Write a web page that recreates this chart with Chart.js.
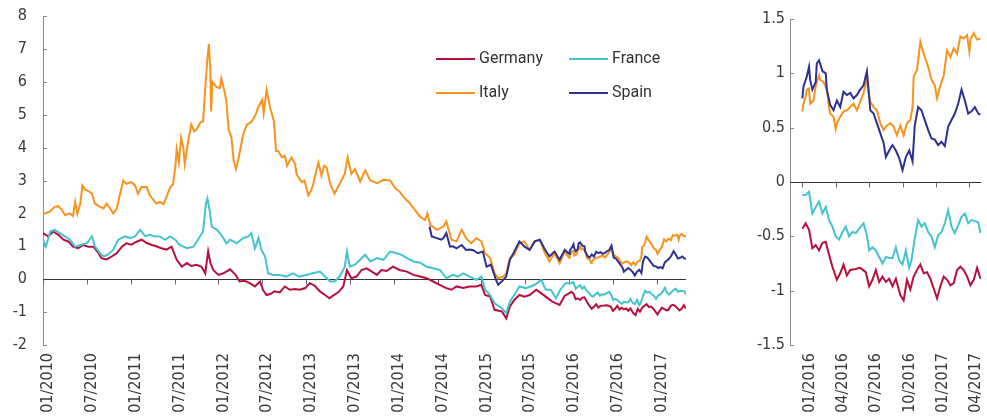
<!DOCTYPE html>
<html>
<head>
<meta charset="utf-8">
<script src="https://cdn.jsdelivr.net/npm/chart.js@4.4.1/dist/chart.umd.min.js"></script>
<style>
  html, body { margin: 0; padding: 0; background: #fff; }
  #wrap { position: relative; width: 987px; height: 420px; overflow: hidden; }
  #c1 { position: absolute; left: 0; top: 0; }
  #c2 { position: absolute; left: 705px; top: 0; }
  .lg { position: absolute; font-family: Roboto, "DejaVu Sans", sans-serif; font-size: 16px; color: #333; line-height: 20px; white-space: nowrap; }
  .sw { position: absolute; height: 2px; width: 39px; }
</style>
</head>
<body>
<div id="wrap">
  <canvas id="c1" width="705" height="420"></canvas>
  <canvas id="c2" width="282" height="420"></canvas>
  <div id="legend"></div>
</div>
<script>
// ---------- tick labels ----------
const leftTickLabels = ['01/2010','07/2010','01/2011','07/2011','01/2012','07/2012','01/2013','07/2013','01/2014','07/2014','01/2015','07/2015','01/2016','07/2016','01/2017'];
const rightTickLabels = ['01/2016','04/2016','07/2016','10/2016','01/2017','04/2017'];

// ---------- series (x = months since 01/2010) ----------
const seriesNames = ['Germany', 'France', 'Italy', 'Spain'];
const seriesColors = ['#b5103f', '#45c3d0', '#f7941d', '#2e3192'];

const germanyMonths = [0,0.7,1.4,2.1,2.8,3.5,4.1,4.8,5.5,6.2,6.9,7.6,8,8.7,9.4,10.1,10.8,11.4,12.1,12.8,13.5,14.2,14.9,15.5,16.2,16.9,17.6,18.3,19,19.7,20.3,21,21.7,22.2,22.6,22.9,23.3,24,24.7,25.6,26.3,26.9,27.6,28.3,29,29.7,30.1,30.6,31.1,31.7,32.4,33.1,33.8,34.5,35.1,35.9,36.5,37.2,37.9,38.6,39.2,39.7,40.4,41.1,41.6,42.2,42.9,43.6,44.3,45,45.7,46.3,47,47.9,48.8,49.8,50.7,51.6,52.5,53.4,54.3,55.2,55.9,56.6,57.5,58.4,59.3,60,60.5,61.2,61.8,62.8,63.4,63.9,64.5,65.2,65.9,66.6,67.5,68.2,68.8,69.7,70.7,71.4,
  72,72.3,72.6,72.9,73.2,73.5,73.8,74.1,74.4,74.7,75.1,75.4,75.7,76,76.3,76.8,77.2,77.7,78,78.3,78.6,78.9,79.2,79.5,79.8,80.1,80.4,80.8,81.1,81.4,81.7,82,82.3,82.6,82.9,83.2,83.5,83.8,84.1,84.4,84.7,85,85.3,85.6,85.9,86.2,86.5,86.8,87.1,87.4,87.7,88];
const germanyValues = [1.4,1.3,1.45,1.35,1.2,1.14,0.99,0.94,1.04,0.99,0.99,0.79,0.64,0.6,0.69,0.79,0.99,1.09,1.05,1.14,1.2,1.1,1.04,1.0,0.94,0.9,0.99,0.59,0.38,0.49,0.4,0.44,0.38,0.18,0.85,0.5,0.28,0.13,0.18,0.3,0.15,-0.07,-0.05,-0.12,-0.22,-0.07,-0.32,-0.48,-0.45,-0.37,-0.4,-0.22,-0.32,-0.3,-0.32,-0.27,-0.12,-0.2,-0.37,-0.48,-0.58,-0.5,-0.4,-0.22,0.28,0.03,0.08,0.28,0.33,0.23,0.13,0.28,0.25,0.38,0.28,0.23,0.13,0.08,0.03,-0.07,-0.17,-0.27,-0.32,-0.22,-0.27,-0.22,-0.22,-0.17,-0.48,-0.53,-0.93,-0.98,-1.19,-0.83,-0.63,-0.48,-0.53,-0.48,-0.32,-0.43,-0.53,-0.68,-0.78,-0.5,
  -0.43,-0.38,-0.44,-0.61,-0.58,-0.63,-0.56,-0.55,-0.67,-0.78,-0.9,-0.84,-0.76,-0.86,-0.81,-0.8,-0.79,-0.83,-0.96,-0.9,-0.81,-0.92,-0.87,-0.92,-0.89,-0.96,-0.89,-1.04,-1.09,-0.9,-0.99,-0.87,-0.81,-0.76,-0.84,-0.83,-0.89,-0.98,-1.07,-0.96,-0.87,-0.9,-0.95,-0.93,-0.81,-0.78,-0.81,-0.87,-0.95,-0.9,-0.79,-0.89];

const franceMonths = [0,0.4,1,1.6,2.3,3,3.7,4.4,5.1,6,6.7,7.1,7.8,8.3,8.9,9.6,10.3,11.2,11.9,12.6,13.3,14,14.6,15.3,16,16.7,17.4,18.1,18.7,19.7,20.6,21.2,21.9,22.3,22.5,22.8,23.1,23.8,24.4,25.1,25.6,26.1,26.5,27.4,28.1,28.5,29,29.5,29.9,30.4,30.8,31.5,32.4,33.3,34.2,35.1,36,36.9,37.9,38.6,39.3,39.9,40.6,41.3,41.6,42,42.7,43.4,44.1,44.8,45.7,46.6,47.5,48.4,49.1,49.8,50.7,51.6,52.5,53.4,54.3,55.2,56.1,56.8,57.5,58.4,59.3,60,60.5,61.2,61.8,62.8,63.4,63.9,64.5,65.2,66.1,67.3,68.2,68.8,69.5,70.2,70.8,71.5,
  72,72.3,72.6,72.9,73.2,73.5,73.8,74.1,74.4,74.7,75,75.3,75.6,75.9,76.2,76.5,76.8,77.1,77.5,77.8,78,78.3,78.6,78.9,79.2,79.5,79.8,80.1,80.4,80.7,81,81.3,81.6,81.8,82.1,82.4,82.7,83,83.3,83.6,83.9,84.2,84.5,84.8,85.1,85.4,85.7,86,86.3,86.6,86.9,87.2,87.5,87.8,88];
const franceValues = [1.2,0.99,1.45,1.5,1.4,1.3,1.2,0.99,1.04,1.09,1.3,1.0,0.79,0.69,0.75,0.89,1.2,1.3,1.25,1.3,1.5,1.3,1.35,1.3,1.3,1.2,1.3,1.2,1.04,0.94,0.99,1.2,1.45,2.3,2.45,2.1,1.6,1.5,1.35,1.09,1.2,1.15,1.09,1.25,1.3,1.4,0.94,1.25,0.89,0.69,0.18,0.13,0.13,0.08,0.18,0.08,0.13,0.18,0.23,0.08,-0.07,-0.07,0.08,0.38,0.84,0.38,0.44,0.59,0.74,0.54,0.64,0.59,0.84,0.79,0.74,0.64,0.54,0.5,0.38,0.33,0.28,0.03,0.13,0.08,0.18,0.08,-0.02,0.08,-0.32,-0.48,-0.73,-0.88,-1.03,-0.68,-0.48,-0.22,-0.27,-0.17,-0.02,-0.32,-0.32,-0.58,-0.32,-0.12,
  -0.12,-0.12,-0.09,-0.29,-0.23,-0.18,-0.29,-0.23,-0.35,-0.41,-0.5,-0.53,-0.46,-0.41,-0.5,-0.46,-0.47,-0.43,-0.38,-0.49,-0.63,-0.6,-0.63,-0.69,-0.75,-0.69,-0.7,-0.7,-0.6,-0.72,-0.76,-0.63,-0.79,-0.72,-0.52,-0.35,-0.41,-0.38,-0.46,-0.5,-0.6,-0.49,-0.46,-0.38,-0.26,-0.41,-0.47,-0.4,-0.32,-0.29,-0.38,-0.35,-0.36,-0.37,-0.47];

const italyMonths = [0,0.9,1.6,2.1,2.6,3,3.7,4.1,4.4,4.7,5.1,5.4,5.8,6.2,6.7,7.1,7.8,8.3,8.7,9.2,9.6,10.1,10.5,11,11.4,12.1,12.6,13,13.5,14.2,14.6,15.1,15.5,16,16.5,16.9,17.4,17.8,18.1,18.3,18.6,18.9,19.2,19.4,19.9,20.3,20.7,21,21.5,21.9,22.1,22.3,22.5,22.7,22.9,23,23.2,23.7,24.2,24.4,24.9,25.1,25.4,25.8,26.1,26.4,26.7,27,27.4,27.9,28.3,28.6,29.1,29.5,30,30.2,30.6,31.1,31.6,31.9,32.2,32.7,33.1,33.4,34,34.5,34.7,35.1,35.4,35.8,36.3,36.7,37,37.4,37.7,38.1,38.5,38.8,39.3,39.9,40.6,41.3,41.7,42.2,42.7,43.4,44.1,44.8,45.7,46.6,47.5,48.2,48.8,49.5,50.2,50.9,51.6,52.3,52.6,53,53.9,54.8,55.2,55.9,56.6,57.3,57.9,58.6,59.3,60,60.5,61.2,61.8,62.3,63,63.4,63.9,64.5,65.2,65.9,66.6,67.3,68,68.6,69.3,70,70.7,71.4,
  72,72.1,72.3,72.4,72.6,72.7,73,73.2,73.3,73.5,73.6,73.9,74.2,74.4,74.5,74.8,75,75.1,75.4,75.7,76,76.3,76.6,76.9,77.2,77.5,77.8,78,78.1,78.4,78.7,79,79.3,79.6,79.9,80.2,80.5,80.8,81.1,81.4,81.7,81.9,82,82.3,82.6,82.7,83,83.3,83.6,83.9,84.1,84.4,84.7,85,85.3,85.6,85.9,86.2,86.5,86.8,87,87.1,87.4,87.7,88];
const italyValues = [1.98,2.05,2.2,2.22,2.1,1.95,2.0,1.92,2.35,1.98,2.3,2.85,2.72,2.68,2.6,2.3,2.2,2.15,2.3,2.15,2.0,2.15,2.55,3.0,2.9,2.95,2.85,2.6,2.8,2.8,2.55,2.42,2.3,2.35,2.28,2.5,2.78,2.9,3.4,3.95,3.55,4.3,4.0,3.5,4.25,4.7,4.5,4.55,4.75,4.8,5.45,6.1,6.7,7.15,6.4,5.1,6.0,5.85,5.8,6.1,5.65,5.4,4.55,4.3,3.6,3.35,3.6,3.95,4.4,4.7,4.75,4.8,5.0,5.25,5.45,5.05,5.75,5.2,4.8,3.9,3.9,3.7,3.75,3.45,3.7,3.5,3.2,3.05,2.95,3.0,2.55,2.7,2.9,3.3,3.55,3.15,3.45,3.4,2.9,2.6,2.9,3.2,3.7,3.2,3.35,2.97,3.3,3.0,2.92,3.02,3.0,2.77,2.66,2.46,2.31,2.11,1.9,1.8,2.0,1.65,1.5,1.6,1.75,1.2,1.15,1.5,1.25,1.09,1.25,1.15,0.79,0.64,0.18,0.03,0.08,0.18,0.64,0.74,1.09,1.15,0.89,1.15,1.2,0.84,0.54,0.79,0.49,0.84,
  0.65,0.72,0.79,0.85,0.86,0.72,0.75,0.88,0.92,0.98,0.94,0.92,0.85,0.69,0.63,0.6,0.49,0.54,0.6,0.65,0.66,0.69,0.72,0.66,0.74,0.82,0.95,0.79,0.74,0.69,0.66,0.54,0.48,0.52,0.54,0.51,0.43,0.52,0.43,0.54,0.57,0.69,0.97,1.03,1.29,1.25,1.15,1.06,0.94,0.89,0.77,0.89,0.98,1.21,1.15,1.23,1.18,1.34,1.32,1.35,1.2,1.31,1.37,1.31,1.32];

const spainMonths = [52.9,53.2,53.9,54.5,54.8,55.2,55.7,56.1,56.6,57.3,57.9,58.4,58.9,59.5,60.2,60.7,61.3,62,62.3,63,63.4,63.9,64.5,65.2,65.9,66.6,67.3,68,68.6,69.3,70,70.7,71.4,
  72,72.1,72.4,72.6,72.7,72.9,73.2,73.3,73.5,73.8,74.1,74.2,74.5,74.8,75.1,75.4,75.7,76,76.3,76.6,76.9,77.2,77.5,77.8,78,78.1,78.4,78.7,79,79.3,79.5,79.8,80.1,80.4,80.7,81,81.3,81.6,81.9,82.1,82.4,82.7,83,83.3,83.6,83.9,84.2,84.5,84.8,85.1,85.4,85.7,86,86.3,86.6,86.9,87.2,87.5,87.8,88];
const spainValues = [1.6,1.3,1.25,1.2,1.25,1.4,0.99,1.0,0.94,1.04,0.89,0.9,0.88,0.79,0.84,0.38,0.44,-0.02,-0.17,-0.02,0.08,0.59,0.84,1.15,0.99,0.89,1.15,1.2,0.94,0.69,0.84,0.59,0.89,
  0.77,0.88,0.97,1.06,0.94,0.85,0.92,1.09,1.12,1.02,1.0,0.85,0.71,0.66,0.75,0.69,0.83,0.8,0.82,0.77,0.8,0.85,0.89,1.02,0.79,0.66,0.63,0.54,0.45,0.36,0.23,0.29,0.34,0.29,0.22,0.11,0.23,0.29,0.19,0.52,0.69,0.66,0.57,0.48,0.4,0.39,0.34,0.37,0.33,0.51,0.57,0.63,0.72,0.85,0.75,0.63,0.65,0.69,0.63,0.62];

// ---------- helpers ----------
function labelToMonth(s) { const p = s.split('/'); return (Number(p[1]) - 2010) * 12 + (Number(p[0]) - 1); }
function monthToLabel(v) {
  const y = 2010 + Math.floor(v / 12);
  const m = Math.round(v - (y - 2010) * 12) + 1;
  return String(m).padStart(2, '0') + '/' + y;
}
function pts(months, values, from) {
  const out = [];
  months.forEach((m, i) => { if (m >= from) out.push({ x: m, y: values[i] }); });
  return out;
}
const allMonths = [germanyMonths, franceMonths, italyMonths, spainMonths];
const allValues = [germanyValues, franceValues, italyValues, spainValues];
const drawOrder = [4, 3, 2, 1]; // Spain on top, Germany at bottom

function makeDatasets(from) {
  return seriesNames.map((n, i) => ({
    label: n,
    data: pts(allMonths[i], allValues[i], from),
    borderColor: seriesColors[i],
    backgroundColor: seriesColors[i],
    borderWidth: 2,
    pointRadius: 0,
    tension: 0,
    fill: false,
    order: drawOrder[i]
  }));
}

const decor = {
  id: 'decor',
  beforeDatasetsDraw(chart) {
    const ctx = chart.ctx, a = chart.chartArea, xs = chart.scales.x, ys = chart.scales.y;
    ctx.save();
    ctx.strokeStyle = '#8c8c8c';
    ctx.lineWidth = 1;
    ys.ticks.forEach(t => {
      const y = Math.round(ys.getPixelForValue(t.value)) + 0.5;
      ctx.beginPath(); ctx.moveTo(a.left, y); ctx.lineTo(a.left + 4, y); ctx.stroke();
    });
    const y0 = Math.round(ys.getPixelForValue(0)) + 0.5;
    ctx.strokeStyle = '#333';
    ctx.beginPath(); ctx.moveTo(a.left, y0); ctx.lineTo(a.right, y0); ctx.stroke();
    ctx.strokeStyle = '#666';
    xs.ticks.forEach(t => {
      const x = Math.round(xs.getPixelForValue(t.value)) + 0.5;
      ctx.beginPath(); ctx.moveTo(x, y0); ctx.lineTo(x, y0 + 5); ctx.stroke();
    });
    ctx.restore();
  }
};

function makeOptions(cfg) {
  return {
    responsive: false,
    animation: false,
    devicePixelRatio: 1,
    layout: { padding: cfg.padding },
    plugins: { legend: { display: false }, tooltip: { enabled: false } },
    scales: {
      x: {
        type: 'linear',
        min: cfg.xmin, max: cfg.xmax,
        afterBuildTicks: s => { s.ticks = cfg.ticks.map(l => ({ value: labelToMonth(l) })); },
        afterFit: s => { s.height = 75; s.paddingLeft = 0; s.paddingRight = 0; },
        grid: { display: false, drawTicks: false },
        border: { display: false },
        ticks: {
          autoSkip: false, minRotation: 90, maxRotation: 90, padding: 8, labelOffset: cfg.lo,
          color: '#3a3a3a', font: { family: 'DejaVu Sans Condensed', size: 16 },
          callback: v => monthToLabel(v)
        }
      },
      y: {
        min: cfg.ymin, max: cfg.ymax,
        afterFit: s => { s.width = cfg.yw; s.paddingTop = 0; s.paddingBottom = 0; },
        grid: { display: false, drawTicks: false },
        border: { display: true, color: '#8c8c8c', width: 1 },
        ticks: {
          stepSize: cfg.step, padding: cfg.ypad,
          color: '#3a3a3a', font: { family: 'DejaVu Sans Condensed', size: 16 },
          callback: v => String(v)
        }
      }
    }
  };
}

new Chart(document.getElementById('c1'), {
  type: 'line',
  data: { datasets: makeDatasets(-1) },
  options: makeOptions({ padding: { left: 0, right: 19, top: 16, bottom: 0 }, xmin: 0, xmax: 88, ymin: -2, ymax: 8, step: 1, yw: 43, ypad: 16, lo: 5, ticks: leftTickLabels }),
  plugins: [decor]
});

new Chart(document.getElementById('c2'), {
  type: 'line',
  data: { datasets: makeDatasets(72) },
  options: makeOptions({ padding: { left: 0, right: 6, top: 19, bottom: 0 }, xmin: 70.89, xmax: 88.05, ymin: -1.5, ymax: 1.5, step: 0.5, yw: 85, ypad: 5, lo: 7, ticks: rightTickLabels }),
  plugins: [decor]
});

// ---------- legend (inside left chart) ----------
const legendPos = [[436, 59], [569, 59], [436, 93], [569, 93]];
const lg = document.getElementById('legend');
seriesNames.forEach((n, i) => {
  const sw = document.createElement('div');
  sw.className = 'sw';
  sw.style.left = legendPos[i][0] + 'px';
  sw.style.top = (legendPos[i][1] - 1) + 'px';
  sw.style.background = seriesColors[i];
  lg.appendChild(sw);
  const t = document.createElement('div');
  t.className = 'lg';
  t.textContent = n;
  t.style.left = (legendPos[i][0] + 43) + 'px';
  t.style.top = (legendPos[i][1] - 11) + 'px';
  lg.appendChild(t);
});
</script>
</body>
</html>
